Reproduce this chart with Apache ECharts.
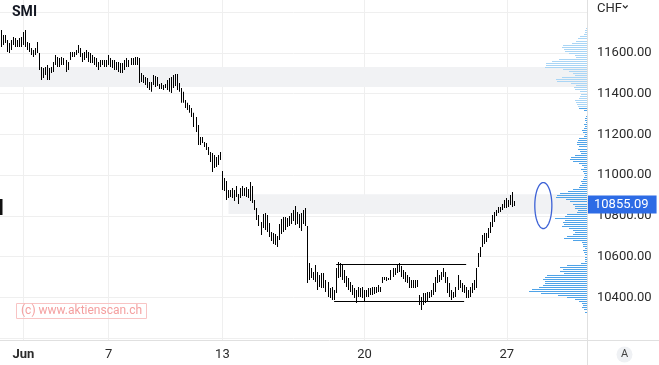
<!DOCTYPE html>
<html><head><meta charset="utf-8">
<script src="https://cdn.jsdelivr.net/npm/echarts@6/dist/echarts.min.js"></script>
<style>html,body{margin:0;padding:0;background:#fff}#c{width:659px;height:365px}</style>
</head><body><div id="c"></div>
<script>
// ---- sessions / categories (hourly-ish bars, 14 per trading session) ----
const sessionDays = ['05-31','06-01','06-02','06-03','06-07','06-08','06-09','06-10',
  '06-13','06-14','06-15','06-16','06-17','06-20','06-21','06-22','06-23','06-24',
  '06-27','06-28','06-29'];
const barsPerSession = 14;
const firstSessionBars = 11;
const lastSessionBars = 12;
const tickDays = ['06-01','06-07','06-13','06-20','06-27'];
const tickLabels = ['Jun','7','13','20','27'];

// ---- SMI bar highs / lows ----
const high = [11712,11687,11687,11663,11648,11663,11677,11672,11663,11672,
  11677,11702,11712,11653,11648,11623,11613,11623,11653,11599,
  11530,11525,11530,11540,11525,11530,11555,11589,11579,11574,
  11579,11574,11564,11555,11604,11604,11604,11613,11638,11623,
  11599,11604,11613,11604,11599,11589,11579,11574,11555,11564,
  11564,11564,11564,11589,11574,11564,11564,11555,11555,11550,
  11550,11564,11574,11564,11574,11574,11579,11579,11574,11501,
  11491,11481,11476,11456,11456,11491,11486,11481,11447,11452,
  11442,11447,11466,11476,11481,11491,11496,11496,11452,11427,
  11408,11368,11354,11344,11329,11305,11285,11245,11186,11186,
  11162,11157,11137,11113,11108,11098,11088,11098,11113,11020,
  10985,10971,10926,10926,10936,10926,10946,10907,10936,10946,
  10936,10941,10931,10966,10946,10877,10838,10804,10769,10809,
  10813,10804,10764,10720,10715,10710,10701,10760,10784,10794,
  10794,10789,10799,10813,10828,10848,10818,10809,10813,10828,
  10838,10750,10568,10544,10524,10558,10524,10509,10519,10519,
  10485,10475,10445,10450,10436,10544,10573,10568,10558,10534,
  10504,10495,10475,10460,10445,10436,10450,10445,10450,10436,
  10436,10445,10445,10450,10450,10450,10460,10450,10499,10499,
  10499,10494,10534,10544,10544,10558,10568,10553,10534,10524,
  10509,10499,10485,10485,10485,10485,10411,10401,10421,10421,
  10426,10426,10436,10470,10499,10534,10509,10524,10544,10524,
  10499,10470,10436,10426,10450,10509,10485,10470,10460,10450,
  10436,10450,10470,10485,10544,10617,10647,10706,10715,10715,
  10740,10769,10804,10818,10828,10843,10843,10858,10877,10887,
  10877,10902,10917,10872];
const low = [11628,11638,11648,11604,11599,11613,11638,11628,11628,11628,
  11628,11638,11628,11613,11604,11589,11579,11589,11599,11515,
  11466,11476,11491,11466,11466,11501,11506,11540,11530,11530,
  11540,11540,11506,11515,11564,11579,11579,11589,11599,11579,
  11555,11564,11574,11555,11550,11550,11540,11530,11515,11530,
  11540,11530,11530,11540,11530,11525,11515,11515,11506,11501,
  11501,11515,11530,11530,11540,11540,11540,11540,11452,11456,
  11452,11442,11427,11417,11408,11442,11432,11437,11422,11422,
  11417,11427,11417,11408,11403,11427,11437,11417,11408,11354,
  11354,11329,11319,11305,11285,11235,11211,11147,11147,11157,
  11137,11123,11098,11064,11015,11034,11039,11049,11074,10926,
  10921,10877,10887,10892,10887,10872,10892,10858,10887,10897,
  10897,10892,10887,10872,10863,10828,10779,10750,10706,10740,
  10730,10720,10696,10676,10661,10657,10647,10681,10710,10720,
  10730,10745,10750,10760,10774,10755,10760,10740,10725,10760,
  10750,10470,10485,10495,10485,10475,10436,10450,10445,10445,
  10426,10401,10396,10387,10387,10421,10495,10499,10485,10470,
  10450,10436,10426,10411,10396,10372,10401,10401,10396,10377,
  10401,10401,10411,10411,10416,10421,10426,10426,10470,10485,
  10480,10485,10485,10499,10509,10519,10524,10499,10490,10475,
  10470,10445,10445,10445,10445,10450,10362,10337,10362,10372,
  10377,10396,10401,10411,10426,10470,10475,10485,10499,10470,
  10421,10401,10387,10396,10401,10436,10445,10426,10421,10396,
  10396,10401,10421,10436,10445,10549,10598,10647,10661,10671,
  10691,10715,10745,10769,10799,10813,10818,10828,10838,10838,
  10843,10853,10843,10848];
const lastPrice = 10855.09;

// ---- volume profile (price bins of 10 points from the top bin downward) ----
const profileTopPrice = 11720;
const profileStep = 10;
const profileVolume = [1,2,2,3,7,9,11,15,24,25, 23,22,18,12,11,28,35,41,41,42,
  24,18,14,12,25,31,30,16,11,13, 12,7,6,7,8,12,11,10,9,8,
  3,0,0,1,2,2,1,3,2,3, 5,4,2,3,8,9,10,10,8,9,
  7,6,12,16,17,14,8,5,3,6, 4,3,2,3,4,6,5,7,8,14,
  19,27,30,31,21,17,14,12,12,9, 10,20,22,32,22,24,23,25,18,14,
  12,14,20,23,14,5,4,4,2,4, 3,2,2,2,2,6,20,27,24,27,
  23,40,42,44,42,42,44,48,55,58, 46,29,20,12,8,5,4,5,3,2];
const profileColorSplit = 11335;

// ---- annotations ----
const zoneUpper = [11432, 11530];          // shaded zone, full width
const zoneLower = [10808, 10906];          // shaded zone starting at bar 112
const zoneLowerStartBar = 112;
const rangeTop = {price: 10560, fromBar: 165, toBar: 229};
const rangeBottom = {price: 10380, fromBar: 164, toBar: 228};
const ellipseMark = {bar: 267, price: 10850, halfBars: 4.2, halfPrice: 113};

// ---- build categories ----
const categories = [];
sessionDays.forEach((d, di) => {
  const n = di === 0 ? firstSessionBars : (di === sessionDays.length - 1 ? lastSessionBars : barsPerSession);
  const start = di === 0 ? barsPerSession - firstSessionBars : 0;
  for (let s = 0; s < n; s++) categories.push(d + ' #' + (start + s));
});
const tickIndex = tickDays.map(d => categories.indexOf(d + ' #0'));
const isTick = (idx) => tickIndex.indexOf(idx) >= 0;

const barData = high.map((h, i) => [i, h, low[i]]);
const profileData = profileVolume.map((v, k) => [v, profileTopPrice - k * profileStep]);

const gridColor = '#efefef';
const txt = '#2a2a2a';
const W = 659, PLOT_R = 587;
const band = PLOT_R / categories.length;

const chart = echarts.init(document.getElementById('c'));
chart.setOption({
  animation: false,
  textStyle: {fontFamily: 'Roboto'},
  title: [
    {text: 'SMI', left: 12, top: 5, padding: 0,
     textStyle: {fontSize: 14, fontWeight: 'bold', color: '#131722'}},
    {text: '(c) www.aktienscan.ch', left: 16, top: 303, padding: [2, 5],
     borderColor: '#f8c4c4', borderWidth: 1,
     textStyle: {fontSize: 12, fontWeight: 'normal', color: '#f4a0a0'}}
  ],
  grid: [
    {left: band / 2, right: W - band / 2 - band * (categories.length - 1), top: 0, bottom: 25},
    {left: 0, right: W - PLOT_R, top: 12, bottom: 27}
  ],
  xAxis: [
    {type: 'category', gridIndex: 0, data: categories, boundaryGap: false,
     axisLine: {show: false}, axisTick: {show: false},
     axisLabel: {interval: isTick, margin: 8, fontSize: 13, color: txt,
       formatter: (v, idx) => {
         const k = tickIndex.indexOf(idx);
         return k === 0 ? '{b|' + tickLabels[k] + '}' : tickLabels[k];
       },
       rich: {b: {fontWeight: 'bold', fontSize: 13, color: txt}}},
     splitLine: {show: true, interval: isTick, lineStyle: {color: gridColor, width: 1}}},
    {type: 'category', gridIndex: 1, data: categories, boundaryGap: true, show: false},
    {type: 'value', gridIndex: 1, min: 0, max: PLOT_R, inverse: true, show: false, position: 'top'}
  ],
  yAxis: [
    {type: 'value', gridIndex: 0, show: false},
    {type: 'value', gridIndex: 1, position: 'right', min: 10200, max: 11800, interval: 200,
     axisLine: {show: false}, axisTick: {show: false},
     splitLine: {lineStyle: {color: gridColor, width: 1}},
     axisLabel: {formatter: v => v.toFixed(2), showMinLabel: false, showMaxLabel: false,
       margin: 10, fontSize: 13, color: txt, padding: [0, 0, 8, 0]}}
  ],
  graphic: [
    {type: 'line', shape: {x1: PLOT_R + 0.5, y1: 0, x2: PLOT_R + 0.5, y2: 365},
     style: {stroke: '#e0e0e0', lineWidth: 1}, z: 5},
    {type: 'line', shape: {x1: 0, y1: 340.5, x2: W, y2: 340.5},
     style: {stroke: '#e0e0e0', lineWidth: 1}, z: 5},
    {type: 'text', left: 597, top: 2, style: {text: 'CHF', fontSize: 13, fill: txt, fontFamily: 'Roboto'}},
    {type: 'polyline', shape: {points: [[623, 5.5], [625.3, 7.8], [627.6, 5.5]]},
     style: {stroke: txt, lineWidth: 1.2, fill: null}},
    {type: 'circle', shape: {cx: 624.5, cy: 354.5, r: 8}, style: {fill: '#eff1f4'}},
    {type: 'text', x: 624.5, y: 354.5, style: {text: 'A', fontSize: 11, fill: '#444',
      align: 'center', verticalAlign: 'middle', fontFamily: 'Roboto'}},
    {type: 'rect', shape: {x: 0, y: 199, width: 2.5, height: 16}, style: {fill: '#111'}}
  ],
  series: [
    {type: 'line', xAxisIndex: 1, yAxisIndex: 1, data: [], z: 1, silent: true,
     markArea: {silent: true, itemStyle: {color: '#f1f2f4'},
       data: [
         [{yAxis: zoneUpper[1]}, {yAxis: zoneUpper[0]}],
         [{xAxis: categories[zoneLowerStartBar], yAxis: zoneLower[1]}, {yAxis: zoneLower[0]}]
       ]},
     markLine: {silent: true, symbol: 'none', label: {show: false},
       data: [
         [{coord: [categories[rangeTop.fromBar], rangeTop.price], lineStyle: {color: '#000', width: 1.2, type: 'solid'}},
          {coord: [categories[rangeTop.toBar], rangeTop.price]}],
         [{coord: [categories[rangeBottom.fromBar], rangeBottom.price], lineStyle: {color: '#000', width: 1.2, type: 'solid'}},
          {coord: [categories[rangeBottom.toBar], rangeBottom.price]}]
       ]}
    },
    {type: 'line', xAxisIndex: 1, yAxisIndex: 1, data: [], z: 6, silent: true,
     markLine: {silent: true, symbol: 'none',
       lineStyle: {color: 'rgba(0,0,0,0)', width: 1},
       label: {show: true, position: 'end', distance: 1, formatter: () => lastPrice.toFixed(2),
         color: '#fff', backgroundColor: '#2d6be5', padding: [3, 8, 2, 6], fontSize: 13, lineHeight: 13},
       data: [{yAxis: lastPrice}]}
    },
    {type: 'custom', xAxisIndex: 1, yAxisIndex: 1, data: barData, z: 2, silent: true,
     encode: {x: 0, y: [1, 2]},
     renderItem: (params, api) => {
       const t = api.coord([api.value(0), api.value(1)]);
       const b = api.coord([api.value(0), api.value(2)]);
       return {type: 'rect', shape: {x: Math.round(t[0] - 0.5), y: t[1], width: 1, height: Math.max(1, b[1] - t[1])},
               style: {fill: '#000'}};
     }},
    {type: 'custom', xAxisIndex: 2, yAxisIndex: 1, data: profileData, z: 3, silent: true,
     encode: {x: 0, y: 1},
     renderItem: (params, api) => {
       const price = api.value(1);
       const p0 = api.coord([0, price]);
       const p1 = api.coord([api.value(0), price]);
       return {type: 'rect', shape: {x: Math.round(p1[0]), y: Math.round(p0[1]), width: Math.round(p0[0]) - Math.round(p1[0]), height: 1},
               style: {fill: price >= profileColorSplit ? '#a9d5f5' : '#4fa3e8'}};
     }},
    {type: 'custom', xAxisIndex: 1, yAxisIndex: 1, z: 4, silent: true,
     data: [[ellipseMark.bar, ellipseMark.price, ellipseMark.halfBars, ellipseMark.halfPrice]],
     encode: {x: 0, y: 1},
     renderItem: (params, api) => {
       const c = api.coord([api.value(0), api.value(1)]);
       const rx = api.value(2) * api.size([1, 0])[0];
       const ry = api.size([0, api.value(3) * 2])[1] / 2;
       const pts = [];
       for (let a = 0; a < 72; a++) {
         const th = a / 72 * Math.PI * 2;
         pts.push([c[0] + rx * Math.cos(th), c[1] + ry * Math.sin(th)]);
       }
       return {type: 'polygon', shape: {points: pts}, style: {fill: 'none', stroke: '#3d62d6', lineWidth: 1.3}};
     }}
  ]
});
</script></body></html>
